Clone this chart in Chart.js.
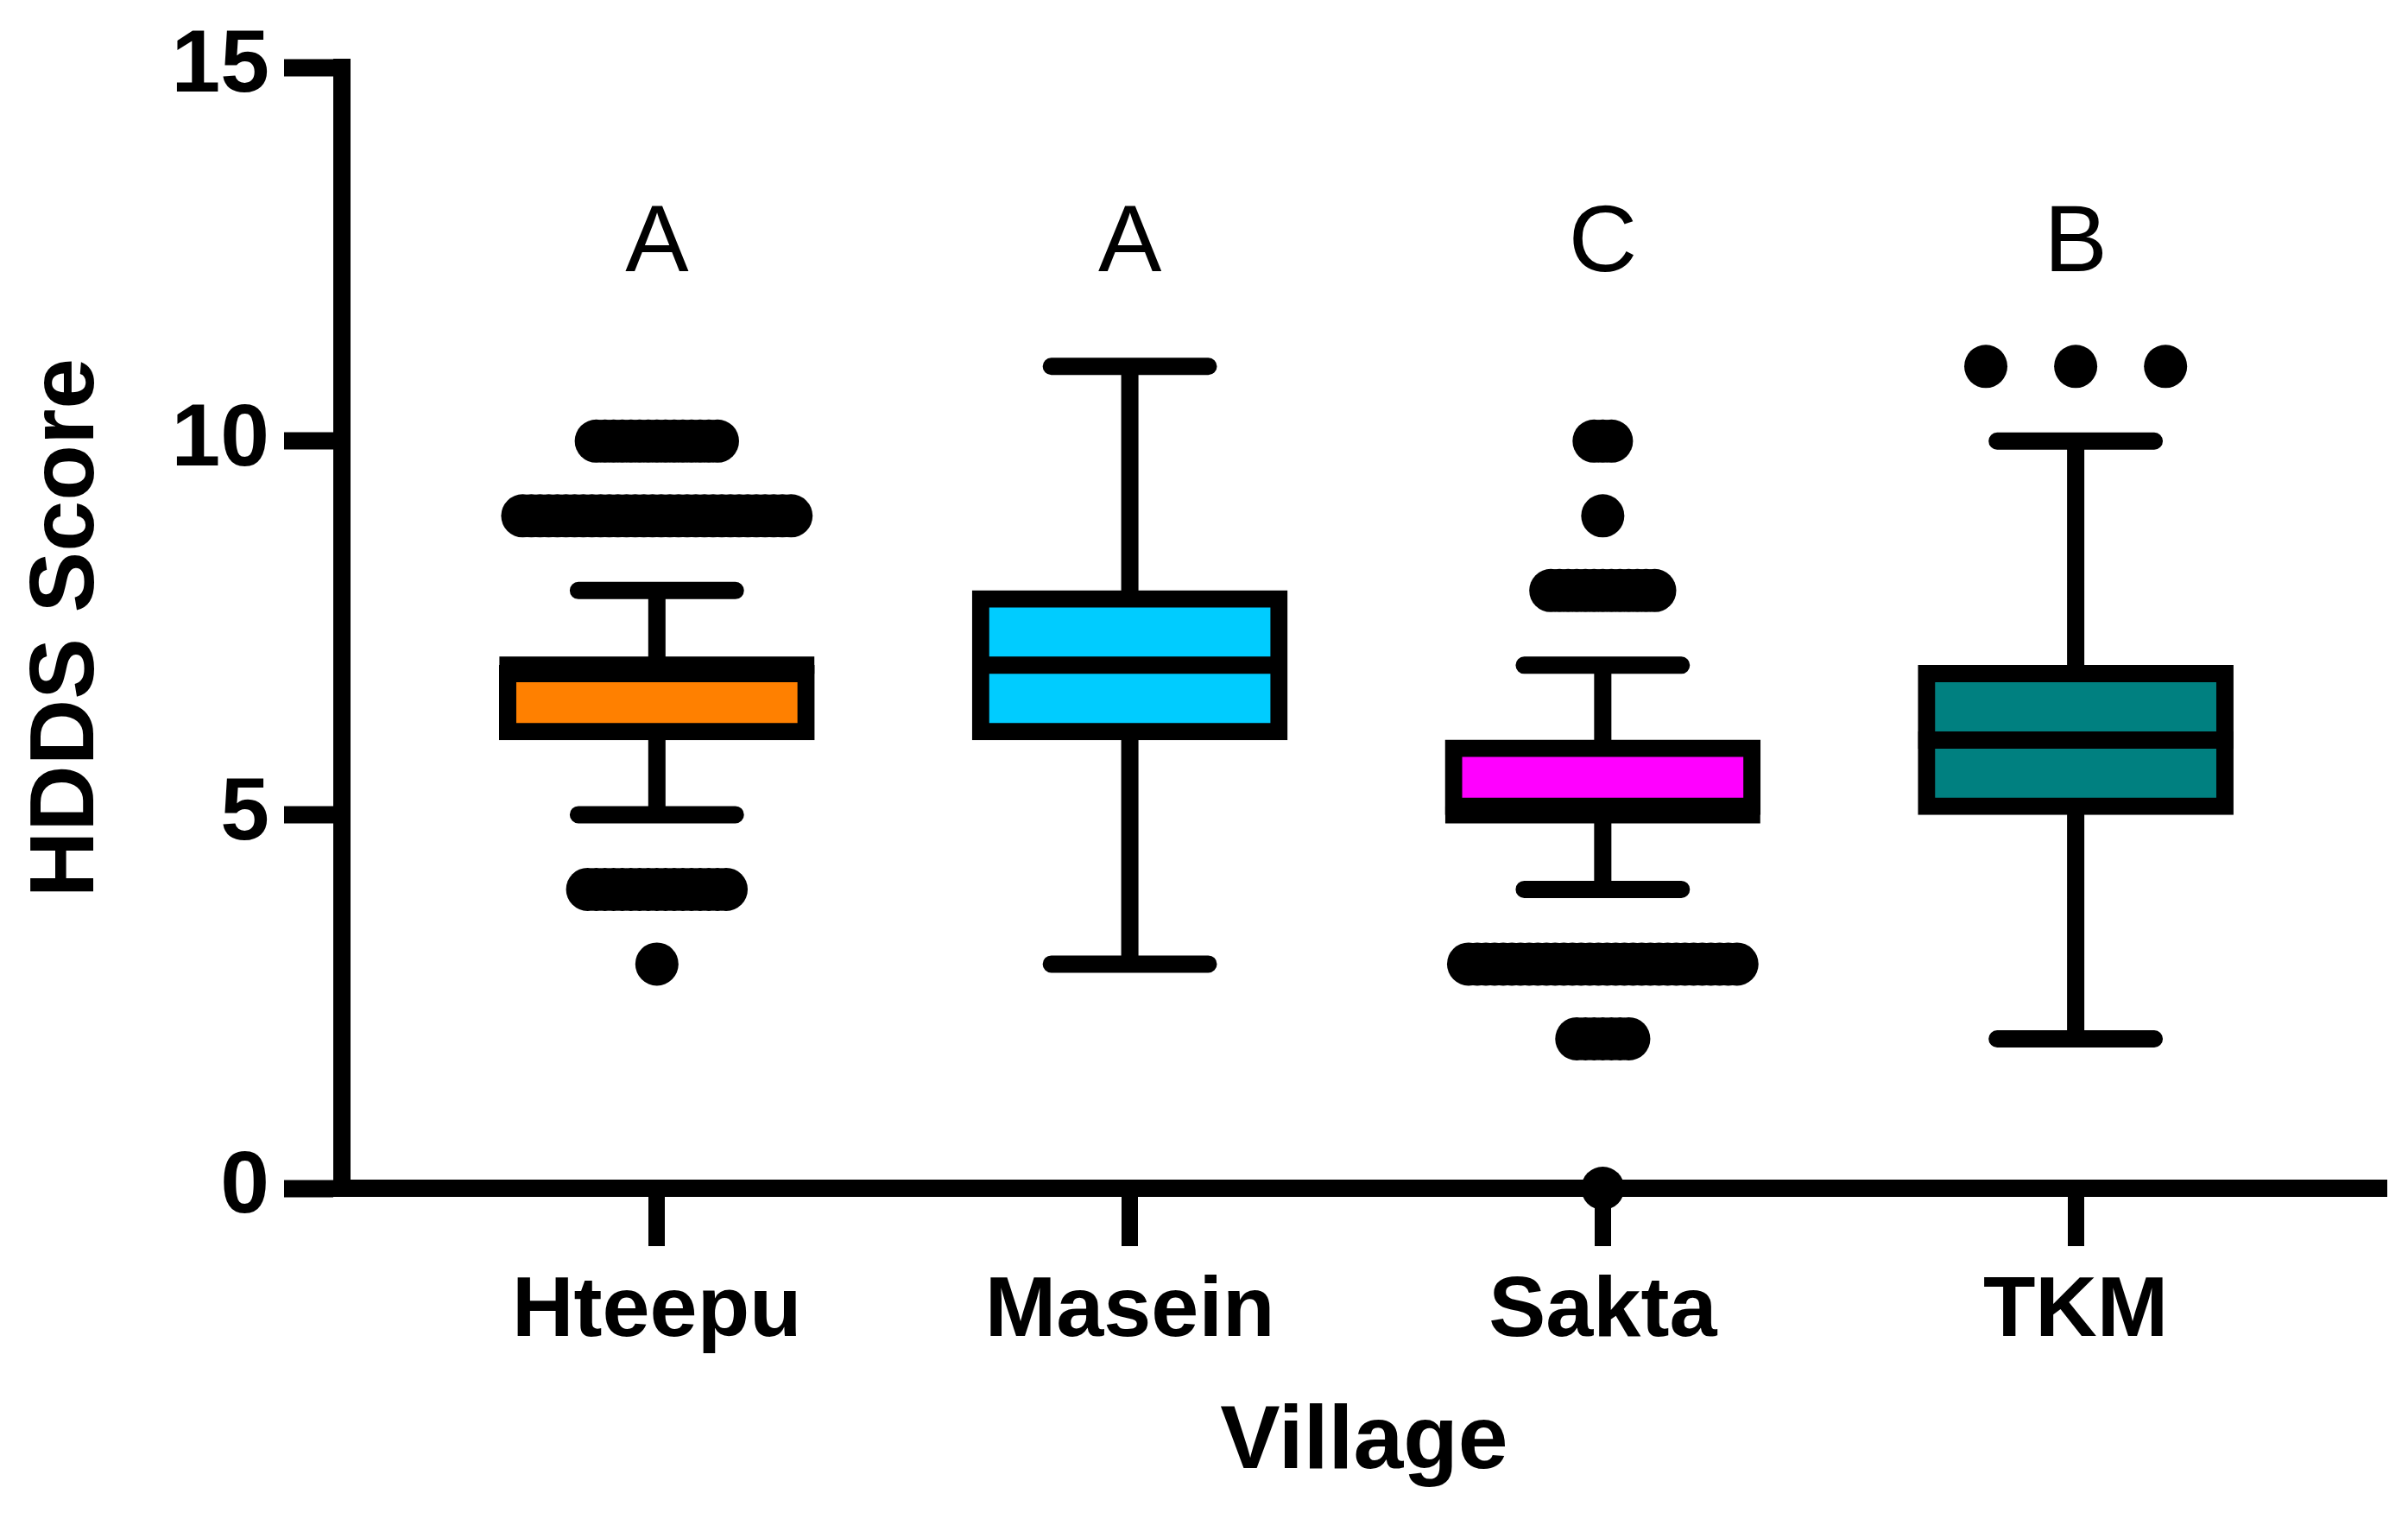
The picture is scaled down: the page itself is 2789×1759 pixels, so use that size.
<!DOCTYPE html>
<html>
<head>
<meta charset="utf-8">
<title>HDDS Score by Village</title>
<script src="https://cdn.jsdelivr.net/npm/chart.js@4.4.1/dist/chart.umd.min.js"></script>
<style>
  html, body { margin: 0; padding: 0; background: #fff; }
  #wrap { width: 2789px; height: 1759px; }
</style>
</head>
<body>
<div id="wrap"><canvas id="chart" width="2789" height="1759"></canvas></div>
<script>
// Values
const villages = ['Hteepu', 'Masein', 'Sakta', 'TKM'];
const groupLetters = ['A', 'A', 'C', 'B'];
const whiskerLow = [5, 3, 4, 2];
const q1 = [6, 6, 5, 5];
const median = [7, 7, 5, 6];
const q3 = [7, 8, 6, 7];
const whiskerHigh = [8, 11, 7, 10];
// outliers: [score, number of households]
const outliersHteepu = [[10, 15], [9, 32], [4, 17], [3, 1]];
const outliersMasein = [];
const outliersSakta = [[10, 3], [9, 1], [8, 13], [3, 32], [2, 7], [0, 1]];
const outliersTkm = [[11, 3]];
const yTicks = [0, 5, 10, 15];

// Styling
const boxColors = ['#ff8000', '#00ccff', '#ff00ff', '#008080'];
const fontFamily = "'Liberation Sans', Arial, Helvetica, sans-serif";
const lineW = 20;
const boxHalf = 0.333;      // half box width, x units
const capHalf = 0.166;      // half whisker cap width
const swarmStep = [0.0183, 0.0183, 0.0183, 0.19];
const letterLevel = 12.63;

const allOutliers = [outliersHteepu, outliersMasein, outliersSakta, outliersTkm];

// whiskers, caps and medians as line segments (null breaks the line)
const whiskers = [], medians = [], points = [];
villages.forEach((v, i) => {
    const x = i + 1;
    whiskers.push({x: x, y: q3[i]}, {x: x, y: whiskerHigh[i]}, {x: x, y: null},
                  {x: x - capHalf, y: whiskerHigh[i]}, {x: x + capHalf, y: whiskerHigh[i]}, {x: x, y: null},
                  {x: x, y: q1[i]}, {x: x, y: whiskerLow[i]}, {x: x, y: null},
                  {x: x - capHalf, y: whiskerLow[i]}, {x: x + capHalf, y: whiskerLow[i]}, {x: x, y: null});
    medians.push({x: x - boxHalf, y: median[i]}, {x: x + boxHalf, y: median[i]}, {x: x, y: null});
    allOutliers[i].forEach(([score, n]) => {
        for (let k = 0; k < n; k++) {
            points.push({x: x + (k - (n - 1) / 2) * swarmStep[i], y: score});
        }
    });
});

const letterPlugin = {
    id: 'groupLetters',
    afterDatasetsDraw(chart) {
        const {ctx, scales: {x, y}} = chart;
        ctx.save();
        ctx.font = '400 110px ' + fontFamily;
        ctx.fillStyle = '#000';
        ctx.textAlign = 'center';
        ctx.textBaseline = 'middle';
        groupLetters.forEach((t, i) => {
            ctx.fillText(t, x.getPixelForValue(i + 1), y.getPixelForValue(letterLevel));
        });
        ctx.restore();
    }
};

const lineBase = {
    type: 'line',
    borderColor: '#000',
    borderWidth: lineW,
    pointRadius: 0,
    fill: false,
    tension: 0,
    spanGaps: false,
    clip: false
};

new Chart(document.getElementById('chart'), {
    type: 'scatter',
    data: {
        datasets: [
            {
                type: 'bar',
                data: villages.map((v, i) => ({x: i + 1, y: [q1[i], q3[i]]})),
                backgroundColor: boxColors,
                borderColor: '#000',
                borderWidth: lineW,
                borderSkipped: false,
                barThickness: 365,
                order: 3
            },
            Object.assign({}, lineBase, {data: medians, borderCapStyle: 'butt', order: 2}),
            Object.assign({}, lineBase, {data: whiskers, borderCapStyle: 'round', order: 1}),
            {
                type: 'scatter',
                data: points,
                pointRadius: 25,
                pointBackgroundColor: '#000',
                pointBorderWidth: 0,
                clip: false,
                order: 0
            }
        ]
    },
    options: {
        responsive: false,
        animation: false,
        events: [],
        layout: { padding: { top: 70, right: 24, bottom: 0, left: 0 } },
        plugins: {
            legend: { display: false },
            tooltip: { enabled: false }
        },
        scales: {
            x: {
                type: 'linear',
                offset: false,
                min: 0.334,
                max: 4.657,
                afterBuildTicks: scale => {
                    scale.ticks = villages.map((v, i) => ({value: i + 1}));
                },
                afterFit: scale => { scale.height = 383; },
                ticks: {
                    autoSkip: false,
                    maxRotation: 0,
                    padding: 17,
                    color: '#000',
                    font: { family: fontFamily, size: 99, weight: 'bold' },
                    callback: (value, index) => villages[index]
                },
                grid: {
                    offset: false,
                    drawOnChartArea: false,
                    tickLength: 67,
                    tickWidth: 19,
                    tickColor: '#000'
                },
                border: { width: 20, color: '#000' },
                title: {
                    display: true,
                    text: 'Village',
                    color: '#000',
                    font: { family: fontFamily, size: 104, weight: 'bold' },
                    padding: { top: 0, bottom: 25 }
                }
            },
            y: {
                min: 0,
                max: 15,
                afterBuildTicks: scale => {
                    scale.ticks = yTicks.map(v => ({value: v}));
                },
                afterFit: scale => { scale.width = 396; },
                ticks: {
                    padding: 17,
                    color: '#000',
                    font: { family: fontFamily, size: 102, weight: 'bold' }
                },
                grid: {
                    drawOnChartArea: false,
                    tickLength: 67,
                    tickWidth: 20,
                    tickColor: '#000'
                },
                border: { width: 20, color: '#000' },
                title: {
                    display: true,
                    text: 'HDDS Score',
                    color: '#000',
                    font: { family: fontFamily, size: 106, weight: 'bold' },
                    padding: { top: 15, bottom: 0 }
                }
            }
        }
    },
    plugins: [letterPlugin]
});
</script>
</body>
</html>
